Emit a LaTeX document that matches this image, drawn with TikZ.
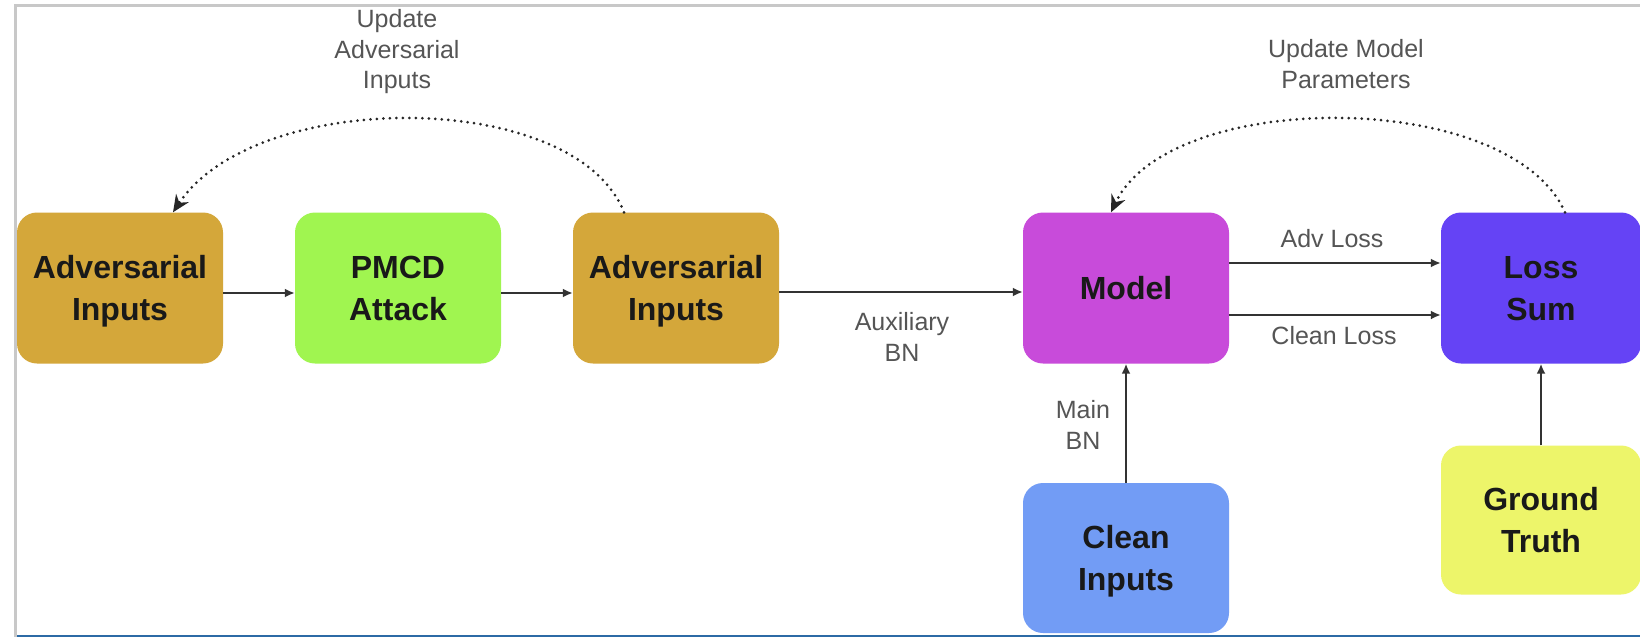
\documentclass[tikz,border=0pt]{standalone}
\usepackage{fontspec}
\setmainfont{Liberation Sans}
\usetikzlibrary{arrows.meta,calc}
\definecolor{advc}{RGB}{212,167,58}
\definecolor{pmcdc}{RGB}{160,245,80}
\definecolor{modelc}{RGB}{200,75,218}
\definecolor{lossc}{RGB}{101,67,245}
\definecolor{gtc}{RGB}{237,245,106}
\definecolor{cleanc}{RGB}{114,156,245}
\definecolor{framegray}{RGB}{200,200,200}
\definecolor{frameblue}{RGB}{44,106,165}
\definecolor{lblgray}{RGB}{85,85,85}
\begin{document}
\begin{tikzpicture}[x=1pt,y=-1pt,
  box/.style={rounded corners=20pt, minimum width=206pt, minimum height=151pt, inner sep=0pt, align=center, font=\fontsize{32}{42}\selectfont\bfseries, text=black!90},
  low/.style={text depth=-3pt},
  lbl/.style={align=center, font=\fontsize{25}{30.5}\selectfont, text=lblgray},
  arr/.style={draw=black!80, line width=2.6pt, -{Latex[length=10pt,width=9pt]}},
  fb/.style={draw=black!85, line width=3pt, line cap=round, dash pattern=on 0pt off 6.5pt, -{Stealth[length=17pt,width=15pt]}}]
\useasboundingbox (0,0) rectangle (1640,637);
\fill[white] (0,0) rectangle (1640,637);
% frame
\fill[framegray] (14,4) rectangle (1640,7);
\fill[framegray] (14,4) rectangle (17,637);
\fill[frameblue] (17,634.8) rectangle (1640,637);
% boxes
\node[box, low, fill=advc] (adv1) at (120,288) {Adversarial\\Inputs};
\node[box, low, fill=pmcdc] (pmcd) at (398,288) {PMCD\\Attack};
\node[box, low, fill=advc] (adv2) at (676,288) {Adversarial\\Inputs};
\node[box, fill=modelc] (model) at (1126,288) {Model};
\node[box, low, fill=lossc, minimum width=200pt] (loss) at (1541,288) {Loss\\Sum};
\node[box, fill=gtc, minimum width=200pt, minimum height=149pt] (gt) at (1541,520) {Ground\\Truth};
\node[box, low, fill=cleanc, minimum height=150pt] (clean) at (1126,558) {Clean\\Inputs};
% straight connectors
\draw[arr] ([yshift=-5pt]adv1.east) -- ([yshift=-5pt]pmcd.west);
\draw[arr] ([yshift=-5pt]pmcd.east) -- ([yshift=-5pt]adv2.west);
\draw[arr] ([yshift=-4pt]adv2.east) -- ([yshift=-4pt]model.west);
\draw[arr] ([yshift=25pt]model.east) -- ([yshift=25pt]loss.west);
\draw[arr] ([yshift=-27pt]model.east) -- ([yshift=-27pt]loss.west);
\draw[arr] (clean.north) -- (model.south);
\draw[arr] (gt.north) -- (loss.south);
% feedback arcs
\draw[fb] ([xshift=-52pt]adv2.north) .. controls (575,88) and (255,88) .. ([xshift=53pt]adv1.north);
\draw[fb] ([xshift=24pt]loss.north) .. controls (1510,88) and (1170,88) .. ([xshift=-15pt]model.north);
% labels
\node[lbl] (l1) at (397,52) {Update\\Adversarial\\Inputs};
\node[lbl] (l2) at (1346,64) {Update Model\\Parameters};
\node[lbl] (l3) at (902,337) {Auxiliary\\BN};
\node[lbl] (l4) at (1332,239) {Adv Loss};
\node[lbl] (l5) at (1334,336) {Clean Loss};
\node[lbl] (l6) at (1083,425) {Main\\BN};
\end{tikzpicture}
\end{document}
